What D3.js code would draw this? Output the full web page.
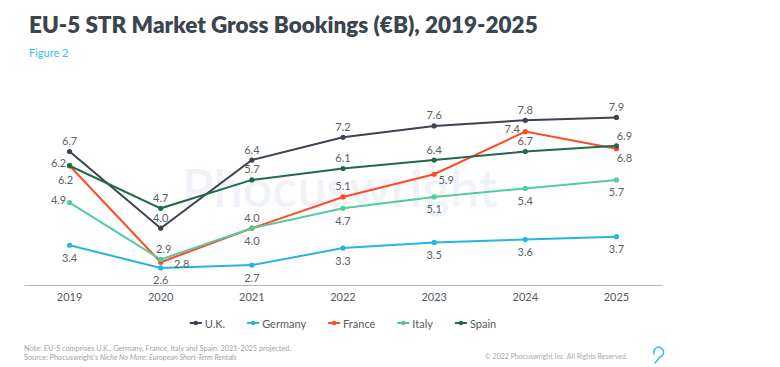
<!DOCTYPE html>
<html><head><meta charset="utf-8">
<script src="https://cdn.jsdelivr.net/npm/d3@7"></script>
<style>
html,body{margin:0;padding:0;background:#fff;}
svg{display:block;font-family:Lato, "Open Sans", sans-serif;}
</style></head>
<body><svg id="c" width="780" height="367"></svg>
<script>
const years = ["2019","2020","2021","2022","2023","2024","2025"];
const seriesNames = ["U.K.","Germany","France","Italy","Spain"];
const ukValues      = [6.7, 4.0, 6.4, 7.2, 7.6, 7.8, 7.9];
const germanyValues = [3.4, 2.6, 2.7, 3.3, 3.5, 3.6, 3.7];
const franceValues  = [6.2, 2.8, 4.0, 5.1, 5.9, 7.4, 6.8];
const italyValues   = [4.9, 2.9, 4.0, 4.7, 5.1, 5.4, 5.7];
const spainValues   = [6.2, 4.7, 5.7, 6.1, 6.4, 6.7, 6.9];
const seriesColors  = ["#3b4450","#25b4e4","#ff4a26","#55cb9c","#1f6a4b"];
// label placement codes per point
const labelPlacement = [
  ["t","t","t","t","t","t","t"],
  ["b","b","b","b","b","b","b"],
  ["bl","r","t","t","br","tl","br2"],
  ["l","tr","b","b","b","b","b"],
  ["l","t","t","t","t","t","tr2"]
];
const placeOffsets = {t:[0,-11], b:[0,12], bl:[-4,14], l:[-11,-3], r:[21,1], tr:[3,-11], br:[12,5], tl:[-13,-3], tr2:[8,-10], br2:[8,9]};

const allValues = [ukValues, germanyValues, franceValues, italyValues, spainValues];
const series = seriesNames.map((n,i)=>({name:n, values:allValues[i], color:seriesColors[i], place:labelPlacement[i]}));

const svg = d3.select("#c");

// watermark
svg.append("text").attr("x",182).attr("y",207).attr("font-size",52).attr("font-weight",600)
  .attr("fill","#eff3f7").text("Phocuswright");

// title
const title = svg.append("text").attr("x",29).attr("y",33).attr("font-weight",800)
  .attr("font-size",20).attr("fill","#3a4550").text("EU-5 STR Market Gross Bookings (€B), 2019-2025");
const tw = title.node().getComputedTextLength();
title.attr("font-size", 20*509/tw);
svg.append("text").attr("x",29).attr("y",57).attr("font-size",11).attr("fill","#3cbfea").text("Figure 2");

const x = d3.scaleBand().domain(years).range([24,662]);
const y = d3.scaleLinear().domain([2,9]).range([285, 285-7*28.4]);
const cx = d => x(d)+x.bandwidth()/2;

const xAxis = svg.append("g").attr("transform","translate(0,285)")
  .call(d3.axisBottom(x).tickSize(0).tickPadding(8));
xAxis.select(".domain").attr("stroke","#b5b5b5").attr("stroke-width",1.2);
xAxis.selectAll("text").attr("font-size",11).attr("fill","#555b62").attr("font-family","Lato, sans-serif");

const line = d3.line().x((d,i)=>cx(years[i])).y(d=>y(d));

series.forEach(s=>{
  svg.append("path").datum(s.values).attr("d",line).attr("fill","none")
    .attr("stroke",s.color).attr("stroke-width",2);
});
series.forEach(s=>{
  svg.append("g").selectAll("circle").data(s.values).join("circle")
    .attr("cx",(d,i)=>cx(years[i])).attr("cy",d=>y(d)).attr("r",2.6).attr("fill",s.color);
});
series.forEach(s=>{
  svg.append("g").selectAll("text").data(s.values).join("text")
    .attr("x",(d,i)=>cx(years[i])+placeOffsets[s.place[i]][0])
    .attr("y",(d,i)=>y(d)+placeOffsets[s.place[i]][1])
    .attr("text-anchor","middle").attr("dominant-baseline","central")
    .attr("font-size",11).attr("fill","#5b6067").text(d=>d.toFixed(1));
});

// legend
const lg = svg.append("g");
let lx = 0;
series.forEach(s=>{
  const g = lg.append("g").attr("transform",`translate(${lx},0)`);
  g.append("line").attr("x1",0).attr("x2",12).attr("y1",0).attr("y2",0).attr("stroke",s.color).attr("stroke-width",2);
  g.append("circle").attr("cx",6).attr("cy",0).attr("r",2.3).attr("fill",s.color);
  const t = g.append("text").attr("x",15).attr("y",0).attr("dominant-baseline","central")
    .attr("font-size",11).attr("fill","#555b62").text(s.name);
  lx += 15 + t.node().getComputedTextLength() + 22;
});
const lw = lx - 22;
lg.attr("transform",`translate(${343-lw/2},323)`);

// footer
svg.append("text").attr("x",24).attr("y",351).attr("font-size",7.3).attr("fill","#9aa4ae")
  .text("Note: EU-5 comprises U.K., Germany, France, Italy and Spain. 2021-2025 projected.");
const src = svg.append("text").attr("x",24).attr("y",359.5).attr("font-size",7.3).attr("fill","#9aa4ae");
src.append("tspan").text("Source: Phocuswright's ");
src.append("tspan").attr("font-style","italic").text("Niche No More: European Short-Term Rentals");
svg.append("text").attr("x",485).attr("y",359).attr("font-size",7).attr("fill","#a4a8ad")
  .text("© 2022 Phocuswright Inc. All Rights Reserved.");
svg.append("path").attr("d","M654,354 A5,5 0 1,1 660,357 L655,363")
  .attr("fill","none").attr("stroke","#3cbfea").attr("stroke-width",1.6).attr("stroke-linecap","round");
</script></body></html>
